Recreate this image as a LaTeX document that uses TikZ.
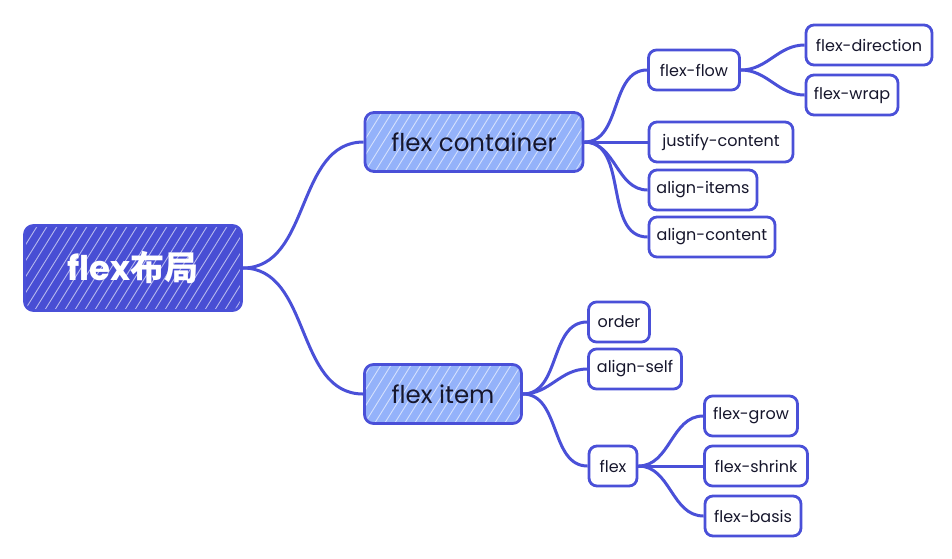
\documentclass[tikz,border=0pt]{standalone}
\usepackage{fontspec}
\setmainfont{Poppins}
\newfontfamily\cjkfont{Noto Sans CJK SC}
\usetikzlibrary{calc}

\definecolor{mapblue}{RGB}{74,80,216}
\definecolor{rootfill}{RGB}{72,78,212}
\definecolor{branchfill}{RGB}{148,178,250}
\definecolor{inktext}{RGB}{22,22,44}

\tikzset{
  hatch/.style={path picture={
    \foreach \k in {0,10,...,360}
      \draw[white, opacity=0.6, line width=0.9pt]
        ([xshift={\k pt-120pt}]path picture bounding box.south west) -- ++(58:160pt);
  }}
}

\begin{document}
\begin{tikzpicture}[
    x=1pt, y=-1pt,
    root/.style={draw=mapblue, line width=2.8pt, fill=rootfill, rounded corners=9pt, hatch,
      text=white, font=\fontsize{34}{38}\selectfont\bfseries, minimum width=217pt, minimum height=85pt},
    branch/.style={draw=mapblue, line width=2.8pt, fill=branchfill, rounded corners=9pt, hatch,
      text=inktext, font=\fontsize{24.5}{28}\selectfont, minimum height=59pt},
    leaf/.style={draw=mapblue, line width=2.8pt, fill=white, rounded corners=8pt,
      text=inktext, font=\fontsize{16}{19}\selectfont, minimum height=40pt, inner xsep=6pt},
    link/.style={draw=mapblue, line width=3pt, out=0, in=180}
]
\useasboundingbox (0,0) rectangle (952,558);

% --- root ---
\node[root] (layout) at (133,268) {flex{\cjkfont\bfseries 布局}};

% --- second level ---
\node[branch, minimum width=218pt] (container) at (474,142) {flex container};
\node[branch, minimum width=157pt] (item) at (443,394) {flex item};

% --- container properties ---
\node[leaf, minimum width=91pt] (flow) at (694,70) {flex-flow};
\node[leaf, minimum width=126pt] (direction) at (869,45) {flex-direction};
\node[leaf, minimum width=92pt] (wrap) at (852,95) {flex-wrap};
\node[leaf, minimum width=144pt] (justify) at (721,142) {justify-content};
\node[leaf, minimum width=108pt] (alignitems) at (703,190) {align-items};
\node[leaf, minimum width=126pt] (aligncontent) at (712,237) {align-content};

% --- item properties ---
\node[leaf, minimum width=61pt] (order) at (619,322) {order};
\node[leaf, minimum width=93pt] (alignself) at (635,369) {align-self};
\node[leaf, minimum width=48pt] (flex) at (613,466) {flex};
\node[leaf, minimum width=93pt] (grow) at (751,416) {flex-grow};
\node[leaf, minimum width=103pt] (shrink) at (756,466) {flex-shrink};
\node[leaf, minimum width=96pt] (basis) at (753,516) {flex-basis};

% --- connectors ---
\draw[link] (layout.east) to (container.west);
\draw[link] (layout.east) to (item.west);

\foreach \c in {flow, justify, alignitems, aligncontent}
  \draw[link] (container.east) to (\c.west);
\draw[link] (flow.east) to (direction.west);
\draw[link] (flow.east) to (wrap.west);

\foreach \c in {order, alignself, flex}
  \draw[link] (item.east) to (\c.west);
\foreach \c in {grow, shrink, basis}
  \draw[link] (flex.east) to (\c.west);

\end{tikzpicture}
\end{document}
